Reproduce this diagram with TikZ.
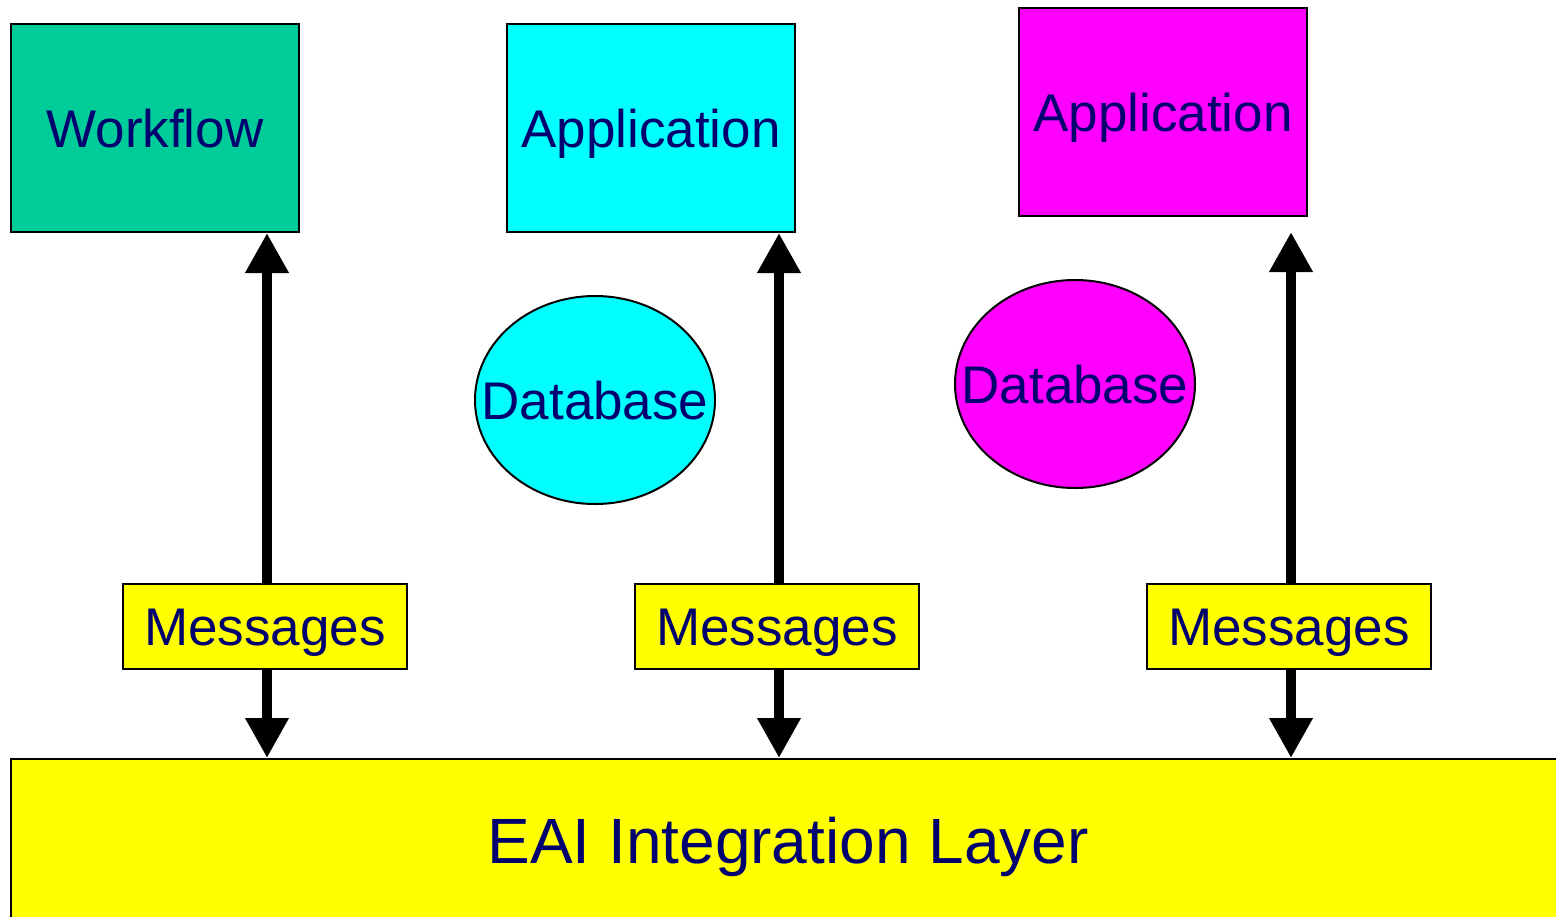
\documentclass[tikz,border=0pt]{standalone}
\usepackage{fontspec}
\setmainfont{Liberation Sans}
\usetikzlibrary{arrows.meta,shapes.geometric}
\definecolor{wfgreen}{RGB}{0,204,153}
\definecolor{txtnavy}{RGB}{0,0,110}
\definecolor{rcyan}{RGB}{0,255,255}
\definecolor{rmagenta}{RGB}{255,0,255}
\definecolor{ryellow}{RGB}{255,255,0}
\tikzset{
  box/.style={draw=black, line width=1pt, inner sep=0pt, text=txtnavy,
    font=\fontsize{26.5pt}{30pt}\selectfont, text height=19pt, text depth=0pt},
  appbox/.style={box, minimum width=144pt, minimum height=104pt},
  dbell/.style={box, ellipse, minimum width=120pt, minimum height=104pt},
  msgbox/.style={box, fill=ryellow, minimum width=142pt, minimum height=42.5pt},
  arr/.style={line width=5pt, -{Triangle[width=20.5pt,length=20pt]}}
}
\begin{document}
\begin{tikzpicture}[x=0.5pt,y=-0.5pt]
\useasboundingbox (0,0) rectangle (1556,916);
% EAI layer (extends past right and bottom edges)
\node[box, fill=ryellow, minimum width=777pt, minimum height=82pt,
      font=\fontsize{32pt}{36pt}\selectfont, text height=22.9pt] (eai) at (788,841) {EAI Integration Layer};
% top row
\node[appbox, fill=wfgreen] (wf) at (155,128) {Workflow};
\node[appbox, fill=rcyan] (app1) at (651,128) {Application};
\node[appbox, fill=rmagenta] (app2) at (1163,112) {Application};
% databases
\node[dbell, fill=rcyan] (db1) at (595,400) {\makebox[0pt]{Database}};
\node[dbell, fill=rmagenta] (db2) at (1075,384) {\makebox[0pt]{Database}};
% messages
\node[msgbox] (m1) at (265,626.5) {Messages};
\node[msgbox] (m2) at (777,626.5) {Messages};
\node[msgbox] (m3) at (1289,626.5) {Messages};
\coordinate (t3) at (1291,232);
% arrows
\draw[arr] ([xshift=1pt]m1.north) -- ([xshift=1pt]m1.north |- wf.south);
\draw[arr] ([xshift=1pt]m1.south) -- ([xshift=1pt]m1.south |- eai.north);
\draw[arr] ([xshift=1pt]m2.north) -- ([xshift=1pt]m2.north |- app1.south);
\draw[arr] ([xshift=1pt]m2.south) -- ([xshift=1pt]m2.south |- eai.north);
\draw[arr] ([xshift=1pt]m3.north) -- (t3);
\draw[arr] ([xshift=1pt]m3.south) -- ([xshift=1pt]m3.south |- eai.north);
\end{tikzpicture}
\end{document}
